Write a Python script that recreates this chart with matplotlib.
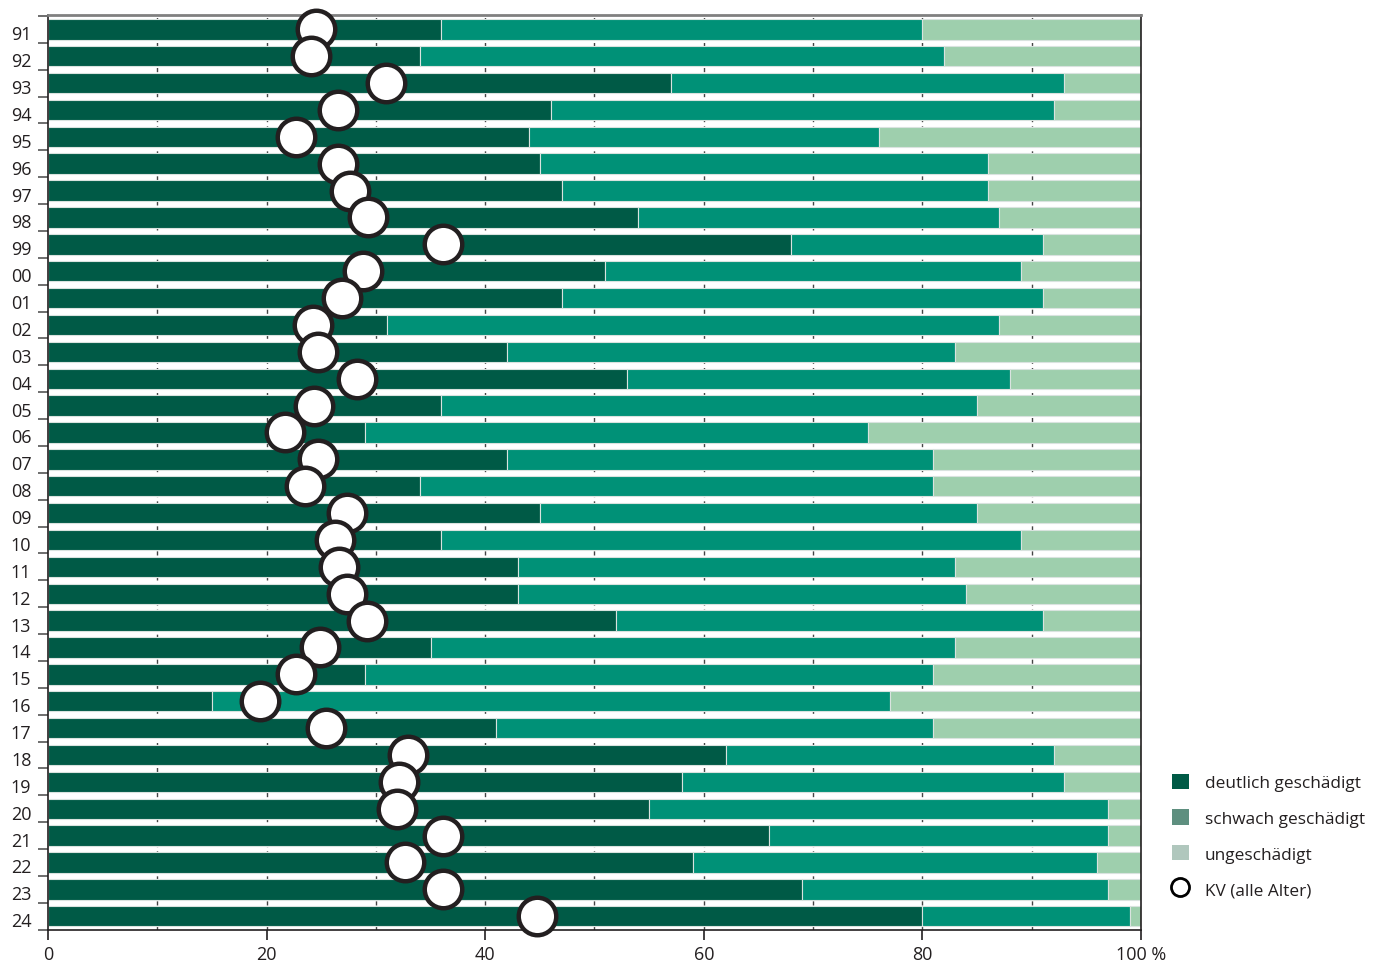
import numpy as np
import matplotlib
matplotlib.use("Agg")
import matplotlib.pyplot as plt
from matplotlib.patches import Patch
from matplotlib.lines import Line2D
from matplotlib.transforms import ScaledTranslation

plt.rcParams['font.family'] = ['Open Sans', 'DejaVu Sans']

# data (percent of trees per damage class)
years = ['91', '92', '93', '94', '95', '96', '97', '98', '99', '00', '01', '02',
         '03', '04', '05', '06', '07', '08', '09', '10', '11', '12', '13', '14',
         '15', '16', '17', '18', '19', '20', '21', '22', '23', '24']
deutlich = [36, 34, 57, 46, 44, 45, 47, 54, 68, 51, 47, 31,
            42, 53, 36, 29, 42, 34, 45, 36, 43, 43, 52, 35,
            29, 15, 41, 62, 58, 55, 66, 59, 69, 80]
schwach = [44, 48, 36, 46, 32, 41, 39, 33, 23, 38, 44, 56,
           41, 35, 49, 46, 39, 47, 40, 53, 40, 41, 39, 48,
           52, 62, 40, 30, 35, 42, 31, 37, 28, 19]
ungeschaedigt = [100 - d - s for d, s in zip(deutlich, schwach)]
kv = [24.5, 24.1, 30.9, 26.5, 22.7, 26.5, 27.6, 29.3, 36.1, 28.8, 26.9, 24.2,
      24.7, 28.3, 24.3, 21.7, 24.7, 23.5, 27.4, 26.3, 26.6, 27.4, 29.2, 24.9,
      22.7, 19.4, 25.4, 32.9, 32.1, 31.9, 36.1, 32.7, 36.1, 44.7]

c_dark = '#005a46'
c_mid = '#009177'
c_light = '#9ecfad'
txt = '#231f20'


def draw(ax):
    y = np.arange(len(years))
    d = np.array(deutlich)
    s = np.array(schwach)
    u = np.array(ungeschaedigt)
    h = 0.76
    kw = dict(height=h, edgecolor='#d9e3df', linewidth=0.8, zorder=2)
    ax.barh(y, d, color=c_dark, **kw)
    ax.barh(y, s, left=d, color=c_mid, **kw)
    ax.barh(y, u, left=d + s, color=c_light, **kw)
    ax.plot(kv, y, 'o', ms=27, mfc='white', mec=txt, mew=3.2,
            linestyle='none', zorder=5, clip_on=False)

    ax.set_xlim(0, 100)
    ax.set_ylim(len(years) - 0.48, -0.52)

    # dashed grid every 10 %
    for gx in range(10, 100, 10):
        ax.axvline(gx, color='#444444', lw=1.0, ls=(0, (3, 3)), zorder=1)

    ax.set_xticks([0, 20, 40, 60, 80, 100])
    ax.set_xticklabels(['0', '20', '40', '60', '80', '100 %'])
    ax.set_yticks(y)
    ax.set_yticklabels(years)
    ax.set_yticks(np.arange(-0.5, len(years), 1.0), minor=True)
    ax.tick_params(axis='y', which='major', length=0, pad=12, labelsize=13, colors=txt)
    ax.tick_params(axis='y', which='minor', length=7, width=1.2, direction='out', color='#555555')
    ax.tick_params(axis='x', which='major', length=7, width=1.2, labelsize=13, colors=txt, pad=4)

    # labels sit a touch lower than the bar centres
    shift = ScaledTranslation(0, -3 / 100, ax.figure.dpi_scale_trans)
    for lab in ax.get_yticklabels():
        lab.set_transform(lab.get_transform() + shift)

    for side in ['left', 'right', 'bottom']:
        ax.spines[side].set_color(txt)
        ax.spines[side].set_linewidth(1.2)
    ax.spines['top'].set_color('#808080')
    ax.spines['top'].set_linewidth(2)


def run():
    fig = plt.figure(figsize=(13.84, 9.62), dpi=100)
    ax = fig.add_axes([0.0347, 0.032, 0.7897, 0.951])
    draw(ax)

    handles = [
        Patch(facecolor=c_dark, edgecolor='none'),
        Patch(facecolor='#5e8f7f', edgecolor='none'),
        Patch(facecolor='#b0c7bd', edgecolor='none'),
        Line2D([], [], marker='o', ls='none', ms=13, mfc='white', mec='black', mew=2),
    ]
    labels = ['deutlich geschädigt', 'schwach geschädigt', 'ungeschädigt', 'KV (alle Alter)']
    fig.legend(handles, labels, loc='upper left', bbox_to_anchor=(0.8355, 0.211),
               frameon=False, fontsize=12.4, handlelength=1.0, handleheight=1.0,
               handletextpad=0.9, labelspacing=1.05, labelcolor=txt)

    fig.savefig('out.png', dpi=100)


if __name__ == "__main__":
    run()
